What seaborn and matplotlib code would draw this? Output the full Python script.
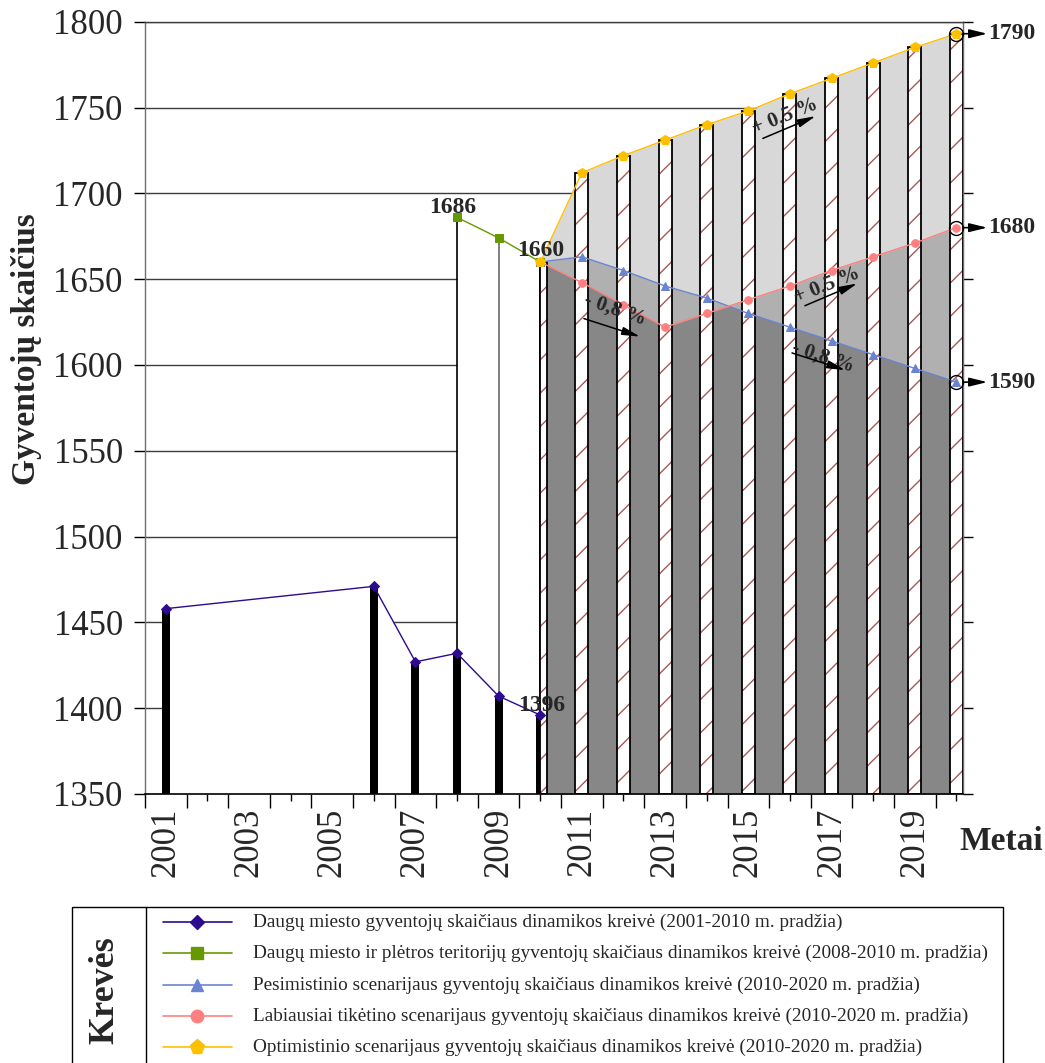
import numpy as np
import matplotlib
matplotlib.use("Agg")
import matplotlib.pyplot as plt
from matplotlib.patches import Rectangle
import seaborn as sns

# ---------------- data ----------------
hist_years = [2001, 2006, 2007, 2008, 2009, 2010]
hist_values = [1458, 1471, 1427, 1432, 1407, 1396]

ext_years = [2008, 2009, 2010]
ext_values = [1686, 1674, 1660]

scen_years = [2010, 2011, 2012, 2013, 2014, 2015, 2016, 2017, 2018, 2019, 2020]
pessimistic = [1660, 1663, 1655, 1646, 1639, 1630, 1622, 1614, 1606, 1598, 1590]
likely = [1660, 1648, 1635, 1622, 1630, 1638, 1646, 1655, 1663, 1671, 1680]
optimistic = [1660, 1712, 1722, 1731, 1740, 1748, 1758, 1767, 1776, 1785, 1793]

end_labels = ["1790", "1680", "1590"]
rate_labels = ["- 0,8 %", "+ 0,5 %", "+ 0,5 %", "- 0,8 %"]

x_tick_years = [2001, 2003, 2005, 2007, 2009, 2011, 2013, 2015, 2017, 2019]
y_ticks = [1350, 1400, 1450, 1500, 1550, 1600, 1650, 1700, 1750, 1800]

legend_labels = [
    "Daugų miesto gyventojų skaičiaus dinamikos kreivė (2001-2010 m. pradžia)",
    "Daugų miesto ir plėtros teritorijų gyventojų skaičiaus dinamikos kreivė (2008-2010 m. pradžia)",
    "Pesimistinio scenarijaus gyventojų skaičiaus dinamikos kreivė (2010-2020 m. pradžia)",
    "Labiausiai tikėtino scenarijaus gyventojų skaičiaus dinamikos kreivė (2010-2020 m. pradžia)",
    "Optimistinio scenarijaus gyventojų skaičiaus dinamikos kreivė (2010-2020 m. pradžia)",
]

# ---------------- style ----------------
sns.set_style("white")
plt.rcParams["font.family"] = ["Liberation Serif", "DejaVu Serif"]
plt.rcParams["hatch.linewidth"] = 1.0

C_HIST = "#2E0A8E"
C_EXT = "#669900"
C_PES = "#6A84D2"
C_LIK = "#FF8080"
C_OPT = "#FFC000"
G_LIGHT = "#D8D8D8"
G_MED = "#B0B0B0"
G_DARK = "#878787"
HATCH_C = "#A85858"

W, H = 1045, 1063
fig = plt.figure(figsize=(W / 100, H / 100), dpi=100)
ax = fig.add_axes([145 / W, (H - 794) / H, 818 / W, 772.3 / H])
ax.set_xlim(2000.5, 2020.16)
ax.set_ylim(1350, 1800)

# gridlines
ax.set_yticks(y_ticks)
ax.set_axisbelow(True)
ax.grid(axis="y", color="#3c3c3c", lw=1.0)
ax.grid(axis="x", visible=False)

# scenario fills
ax.fill_between(scen_years, 1350, optimistic, color=G_LIGHT, lw=0, zorder=1.0)
under_pes = ax.fill_between(scen_years, 1350, pessimistic, color=G_MED, lw=0, zorder=1.1)
ax.fill_between(scen_years, 1350, likely, color=G_MED, lw=0, zorder=1.1)
dark = ax.fill_between(scen_years, 1350, likely, color=G_DARK, lw=0, zorder=1.2)
dark.set_clip_path(under_pes.get_paths()[0], ax.transData)

# white areas under the historic curves
ax.fill_between(hist_years, 1350, hist_values, color="white", lw=0, zorder=1.3)
ax.fill_between(ext_years, 1350, ext_values, color="white", lw=0, zorder=1.3)

# drop lines from the 2008-2010 curve
ax.vlines(ext_years, 1350, ext_values, colors=["black", "#6a6a6a", "black"],
          lw=1.2, zorder=1.5)

# black bars (historic)
ax.bar(hist_years, np.array(hist_values) - 1350, bottom=1350, width=0.19,
       color="black", lw=0, zorder=2)

# hatched bars (scenario years)
opt_h = np.array(optimistic) - 1350
ax.bar(scen_years[1:], opt_h[1:], bottom=1350, width=0.31, color="white",
       edgecolor=HATCH_C, hatch="/", lw=0, zorder=2.5)
ax.bar(scen_years[1:], opt_h[1:], bottom=1350, width=0.31, fill=False,
       edgecolor="black", lw=1.3, zorder=2.6)
ax.bar(scen_years[:1], opt_h[:1], bottom=1350, width=0.155, align="edge",
       color="white", edgecolor=HATCH_C, hatch="/", lw=0, zorder=2.5)
ax.bar(scen_years[:1], opt_h[:1], bottom=1350, width=0.155, align="edge",
       fill=False, edgecolor="black", lw=1.3, zorder=2.6)

# curves
sns.lineplot(x=hist_years, y=hist_values, color=C_HIST, lw=1.0, marker="D",
             markersize=5.2, markeredgecolor=C_HIST, ax=ax, legend=False, zorder=3)
sns.lineplot(x=ext_years, y=ext_values, color=C_EXT, lw=1.0, marker="s",
             markersize=6, markeredgecolor=C_EXT, ax=ax, legend=False, zorder=3)
sns.lineplot(x=scen_years, y=pessimistic, color=C_PES, lw=1.0, marker="^",
             markersize=6, markeredgecolor=C_PES, ax=ax, legend=False, zorder=3)
sns.lineplot(x=scen_years, y=likely, color=C_LIK, lw=1.0, marker="o",
             markersize=5.5, markeredgecolor=C_LIK, ax=ax, legend=False, zorder=3)
sns.lineplot(x=scen_years, y=optimistic, color=C_OPT, lw=1.0, marker="p",
             markersize=7.5, markeredgecolor=C_OPT, ax=ax, legend=False, zorder=3)

# point labels
lab_kw = dict(fontsize=17, fontweight="bold", ha="center", va="baseline", zorder=5)
ax.annotate(str(ext_values[0]), (ext_years[0], ext_values[0]), xytext=(-3, 3),
            textcoords="offset points", **lab_kw)
ax.annotate(str(ext_values[-1]), (ext_years[-1], ext_values[-1]), xytext=(0, 4),
            textcoords="offset points", **lab_kw)
ax.annotate(str(hist_values[-1]), (hist_years[-1], hist_values[-1]), xytext=(1, 3),
            textcoords="offset points", **lab_kw)

# end circles with arrows
end_vals = [optimistic[-1], likely[-1], pessimistic[-1]]
ax.plot([scen_years[-1]] * 3, end_vals, "o", mfc="none", mec="black", ms=10,
        mew=1.0, zorder=4, clip_on=False)
for v, lab in zip(end_vals, end_labels):
    ax.annotate("", xy=(scen_years[-1], v), xytext=(31, 0), textcoords="offset pixels",
                arrowprops=dict(arrowstyle="<|-,head_length=0.9,head_width=0.22",
                                color="black", lw=1.2, shrinkA=0, shrinkB=4.7,
                                mutation_scale=12),
                annotation_clip=False, zorder=5)
    ax.annotate(lab, xy=(scen_years[-1], v), xytext=(32, 0), textcoords="offset pixels",
                ha="left", va="center", fontsize=17, fontweight="bold",
                annotation_clip=False, zorder=5)

# rate annotations: (text center, rotation, arrow tail, arrow head)
rate_specs = [
    ((2011.80, 1632.5), -19, (2011.05, 1627.0), (2012.40, 1616.5)),
    ((2015.88, 1745.0), 22, (2015.35, 1732.0), (2016.62, 1745.0)),
    ((2016.88, 1646.5), 22, (2016.36, 1634.5), (2017.62, 1647.5)),
    ((2016.80, 1604.5), -18, (2016.05, 1607.0), (2017.33, 1597.0)),
]
for lab, (tc, rot, tail, head) in zip(rate_labels, rate_specs):
    ax.text(tc[0], tc[1], lab, rotation=rot, rotation_mode="anchor", ha="center",
            va="center", fontsize=15, fontweight="bold", zorder=5)
    ax.annotate("", xy=head, xytext=tail,
                arrowprops=dict(arrowstyle="-|>,head_length=0.9,head_width=0.2",
                                color="black", lw=1.1, shrinkA=0, shrinkB=0,
                                mutation_scale=12), zorder=5)

# axes cosmetics
for s in ["left", "right", "top"]:
    ax.spines[s].set_color("#707070")
    ax.spines[s].set_linewidth(1.0)
ax.spines["bottom"].set_color("black")
ax.spines["bottom"].set_linewidth(1.2)
ax.spines["top"].set_color("#3c3c3c")

ax.set_yticklabels([str(t) for t in y_ticks], fontsize=25)
ax.tick_params(axis="y", which="major", direction="out", length=8, width=1,
               color="black", pad=8, left=True)
ax.set_xticks(x_tick_years)
ax.set_xticklabels([str(t) for t in x_tick_years], rotation=90, fontsize=25)
ax.set_xticks(np.arange(2000.5, 2020.0, 1.0), minor=True)
ax.tick_params(axis="x", which="major", length=0, pad=10)
ax.tick_params(axis="x", which="minor", direction="out", length=10, width=1,
               color="black", bottom=True)

sec_x = ax.secondary_xaxis("bottom")
sec_x.set_xticks(list(range(2002, 2021, 2)))
sec_x.set_xticklabels([])
sec_x.tick_params(length=5, width=1, color="black", direction="out")
sec_x.spines["bottom"].set_visible(False)

sec_y = ax.secondary_yaxis("right")
sec_y.set_yticks(y_ticks)
sec_y.set_yticklabels([])
sec_y.tick_params(length=7, width=1, color="black", direction="out")
sec_y.spines["right"].set_color("#707070")

fig.text(27 / W, 1 - 349 / H, "Gyventojų skaičius", rotation=90, ha="center",
         va="center", fontsize=24, fontweight="bold")
fig.text(1001 / W, 1 - 841 / H, "Metai", ha="center", va="center", fontsize=24,
         fontweight="bold")

# ---------------- legend box ----------------
lax = fig.add_axes([0, 0, 1, 160 / H])
lax.set_xlim(0, W)
lax.set_ylim(H, H - 160)
lax.axis("off")
lax.add_patch(Rectangle((72, 907), 931, 200, fill=False, ec="black", lw=1.0))
lax.plot([146, 146], [907, H], color="black", lw=1.0)
lax.text(105, 990, "Krevės", rotation=90, ha="center", va="center", fontsize=26,
         fontweight="bold")
leg_rows = [922, 953, 985, 1016, 1047]
leg_style = [(C_HIST, "D", 7.5), (C_EXT, "s", 8.5), (C_PES, "^", 8.5),
             (C_LIK, "o", 9.0), (C_OPT, "p", 11.0)]
for yy, (c, m, ms), lab in zip(leg_rows, leg_style, legend_labels):
    lax.plot([163, 232], [yy, yy], color=c, lw=1.2)
    lax.plot([197], [yy], marker=m, ms=ms, color=c, mec=c)
    lax.text(253, yy, lab, ha="left", va="center", fontsize=13.9)

fig.savefig("out.png", dpi=100)
